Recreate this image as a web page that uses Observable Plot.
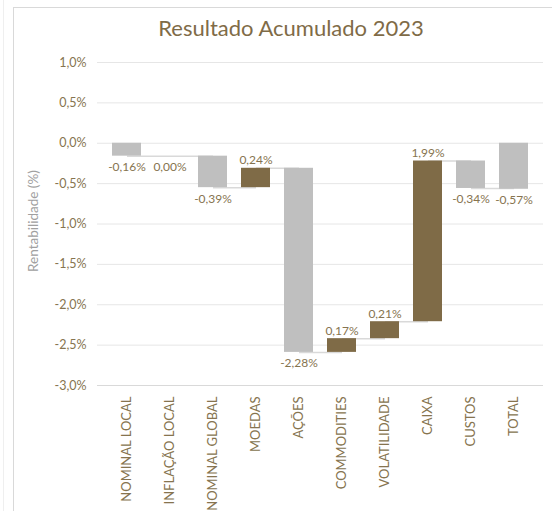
<!DOCTYPE html>
<html>
<head>
<meta charset="utf-8">
<script src="https://cdn.jsdelivr.net/npm/d3@7"></script>
<script src="https://cdn.jsdelivr.net/npm/@observablehq/plot@0.6"></script>
<style>
  html, body { margin: 0; padding: 0; background: #fff; }
  #wrap { position: relative; width: 552px; height: 511px; overflow: hidden; font-family: Lato, "Open Sans", sans-serif; }
  #outer { position: absolute; left: 3px; top: 0; width: 1px; height: 511px; background: #efefef; }
  #frame { position: absolute; left: 13px; top: 7px; width: 560px; height: 520px; border-left: 1px solid #d9d9d9; border-top: 1px solid #d9d9d9; }
  #title { position: absolute; left: 0; width: 582px; top: 14px; text-align: center; font-size: 22px; color: #7f6b47; }
  #chart { position: absolute; left: 0; top: 0; }
</style>
</head>
<body>
<div id="wrap">
  <div id="outer"></div>
  <div id="frame"></div>
  <div id="chart"></div>
  <div id="title">Resultado Acumulado 2023</div>
</div>
<script>
const categories = ["NOMINAL LOCAL", "INFLAÇÃO LOCAL", "NOMINAL GLOBAL", "MOEDAS", "AÇÕES", "COMMODITIES", "VOLATILIDADE", "CAIXA", "CUSTOS", "TOTAL"];
const values = [-0.16, 0.00, -0.39, 0.24, -2.28, 0.17, 0.21, 1.99, -0.34, -0.57];
const isTotal = [false, false, false, false, false, false, false, false, false, true];
const yTicks = [1.0, 0.5, 0.0, -0.5, -1.0, -1.5, -2.0, -2.5, -3.0];

const brown = "#7f6b47";
const gray = "#bfbfbf";
const textColor = "#86744f";

let run = 0;
const rows = categories.map((c, i) => {
  let start, end;
  if (isTotal[i]) { start = 0; end = values[i]; }
  else { start = run; end = run + values[i]; run = end; }
  return {cat: c, value: values[i], start, end, top: Math.max(start, end), bottom: Math.min(start, end), total: isTotal[i]};
});
const links = rows.slice(0, -1).map((r, i) => ({a: r.cat, b: rows[i + 1].cat, level: r.end}));
const up = rows.filter(d => d.value > 0 && !d.total);
const down = rows.filter(d => !(d.value > 0 && !d.total));

const fmt = v => v.toFixed(2).replace(".", ",") + "%";
const fmtTick = v => (Math.abs(v) < 1e-9 ? "0,0" : v.toFixed(1).replace(".", ",")) + "%";

const chart = Plot.plot({
  width: 552,
  height: 511,
  marginTop: 62,
  marginBottom: 126,
  marginLeft: 97,
  marginRight: 9,
  style: {fontFamily: "Lato, 'Open Sans', sans-serif", fontSize: "12px", background: "transparent", overflow: "visible"},
  x: {domain: categories, padding: 0.33, label: null},
  y: {domain: [-3, 1], label: null},
  marks: [
    Plot.gridY(yTicks, {stroke: "#e6e6e6", strokeOpacity: 1}),
    Plot.ruleY([-3], {stroke: "#d9d9d9", strokeWidth: 1.2}),
    Plot.ruleX([0], {frameAnchor: "left", stroke: "#d9d9d9", strokeWidth: 1.2}),
    Plot.axisX({tickSize: 0, tickPadding: 11, tickRotate: -90, fill: textColor, fontSize: 13, label: null}),
    Plot.axisY({ticks: yTicks, tickFormat: fmtTick, tickSize: 0, tickPadding: 11, fill: textColor, fontSize: 12.5, label: null}),
    Plot.link(links, {x1: "a", x2: "b", y1: "level", y2: "level", stroke: "#d9d9d9", strokeWidth: 1.5}),
    Plot.barY(rows, {x: "cat", y1: "start", y2: "end", fill: d => (d.value > 0 && !d.total ? brown : gray)}),
    Plot.text(up, {x: "cat", y: "top", text: d => fmt(d.value), dy: -8, lineAnchor: "middle", fill: textColor, fontSize: 12}),
    Plot.text(down, {x: "cat", y: "bottom", text: d => fmt(d.value), dy: 11, lineAnchor: "middle", fill: textColor, fontSize: 12}),
    Plot.text(["Rentabilidade (%)"], {frameAnchor: "left", textAnchor: "middle", lineAnchor: "middle", dx: -64, dy: -3, rotate: -90, fill: "#a0a0a0", fontSize: 13.5, text: d => d})
  ]
});
document.getElementById("chart").appendChild(chart);
</script>
</body>
</html>
